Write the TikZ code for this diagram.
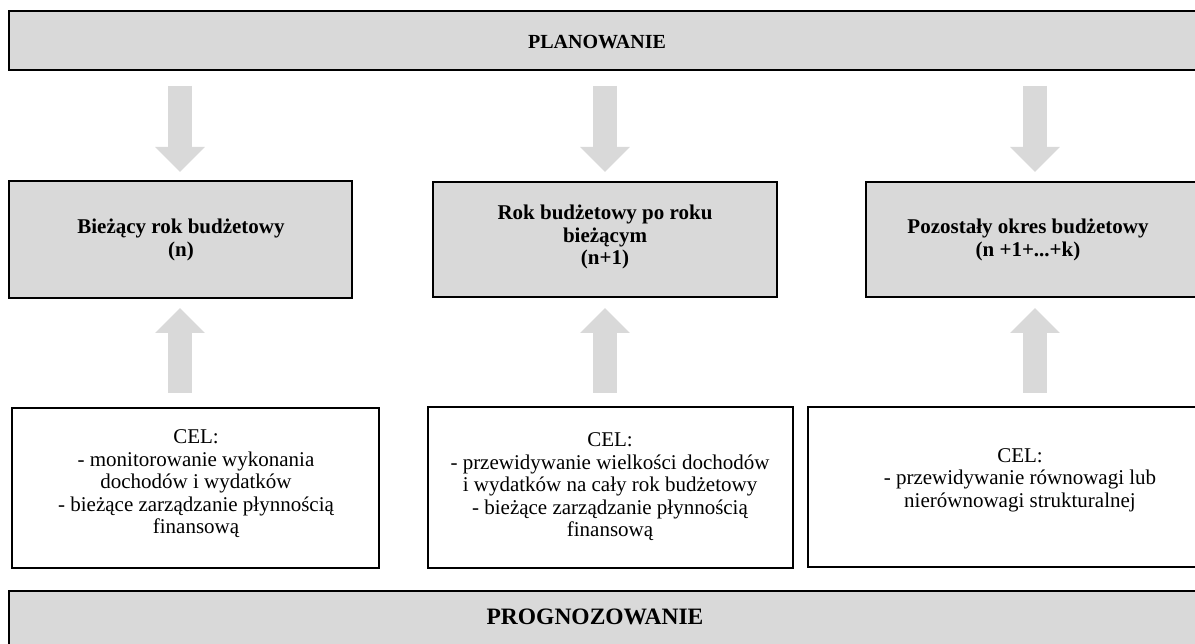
\documentclass[tikz,border=0pt]{standalone}
\usepackage{fontspec}
\setmainfont{Liberation Serif}
\usetikzlibrary{arrows.meta}
\definecolor{boxgray}{HTML}{D9D9D9}
\tikzset{
  graybox/.style={draw=black, line width=2.2pt, fill=boxgray, inner sep=0pt},
  whitebox/.style={draw=black, line width=2.2pt, fill=white, inner sep=0pt},
  headtext/.style={font=\bfseries\fontsize{21}{22.5}\selectfont, align=center, inner sep=0pt},
  bodytext/.style={font=\fontsize{21}{22.5}\selectfont, align=center, inner sep=0pt},
  toptext/.style={font=\bfseries\fontsize{20}{22}\selectfont, align=center, inner sep=0pt},
  bigtext/.style={font=\bfseries\fontsize{23.5}{26}\selectfont, align=center, inner sep=0pt},
  blockarrow/.style={draw=boxgray, line width=24pt, -{Triangle[width=48pt,length=25pt]}}
}
\begin{document}
\begin{tikzpicture}[x=1pt,y=-1pt]
\useasboundingbox (0,0) rectangle (1195,644);
\clip (0,0) rectangle (1195,644);

% top and bottom bands
\node[graybox, minimum width=1196pt, minimum height=59pt] (plan) at (607,40.5) {};
\node[toptext] (plantxt) at (597,42) {PLANOWANIE};
\node[graybox, minimum width=1196pt, minimum height=58pt] (prog) at (607,620) {};
\node[bigtext] (progtxt) at (595,617) {PROGNOZOWANIE};

% budget periods
\node[graybox, minimum width=343pt, minimum height=117pt] (b1) at (180.5,239.5) {};
\node[headtext] at (181,240) {Bieżący rok budżetowy\\(n)};
\node[graybox, minimum width=344pt, minimum height=115pt] (b2) at (605,239.5) {};
\node[headtext] at (605,237) {Rok budżetowy po roku\\bieżącym\\(n+1)};
\node[graybox, minimum width=339pt, minimum height=115pt] (b3) at (1035.5,239.5) {};
\node[headtext] at (1028,240) {Pozostały okres budżetowy\\(n +1+...+k)};

% goals
\node[whitebox, minimum width=367pt, minimum height=160pt] (c1) at (195.5,488) {};
\node[bodytext] at (196,484) {CEL:\\- monitorowanie wykonania\\dochodów i wydatków\\- bieżące zarządzanie płynnością\\finansową};
\node[whitebox, minimum width=365pt, minimum height=161pt] (c2) at (610.5,487.5) {};
\node[bodytext] at (610,487) {CEL:\\- przewidywanie wielkości dochodów\\i wydatków na cały rok budżetowy\\- bieżące zarządzanie płynnością\\finansową};
\node[whitebox, minimum width=432pt, minimum height=160pt] (c3) at (1024,487) {};
\node[bodytext] at (1020,480) {CEL:\\- przewidywanie równowagi lub\\nierównowagi strukturalnej};

% arrow end points
\coordinate (d1s) at (180,86);  \coordinate (d1e) at (180,172);
\coordinate (d2s) at (605,86);  \coordinate (d2e) at (605,172);
\coordinate (d3s) at (1035,86); \coordinate (d3e) at (1035,172);
\coordinate (u1s) at (180,393); \coordinate (u1e) at (180,308);
\coordinate (u2s) at (605,393); \coordinate (u2e) at (605,308);
\coordinate (u3s) at (1035,393); \coordinate (u3e) at (1035,308);

\draw[blockarrow] (d1s) -- (d1e);
\draw[blockarrow] (d2s) -- (d2e);
\draw[blockarrow] (d3s) -- (d3e);
\draw[blockarrow] (u1s) -- (u1e);
\draw[blockarrow] (u2s) -- (u2e);
\draw[blockarrow] (u3s) -- (u3e);
\end{tikzpicture}
\end{document}
